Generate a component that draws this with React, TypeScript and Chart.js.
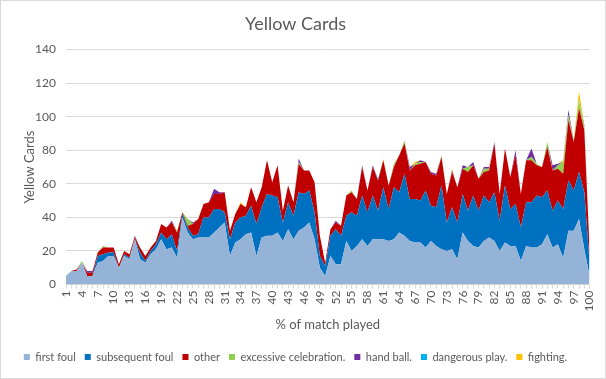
import React, { useEffect, useRef } from "react";
import { Chart, registerables } from "chart.js";

Chart.register(...registerables);

const categories: string[] = Array.from({ length: 100 }, (_, i) => String(i + 1));

const firstFoul = [
  5, 8, 8, 13, 5, 5, 13, 14, 17, 17,
  10, 17, 15, 27, 15, 13, 18, 21, 27, 21,
  22, 16, 40, 31, 27, 28, 28, 28, 31, 34,
  37, 17, 25, 27, 30, 31, 17, 28, 29, 29,
  31, 26, 33, 27, 32, 34, 37, 27, 10, 5,
  17, 12, 12, 26, 20, 23, 27, 23, 27, 27,
  27, 26, 27, 31, 29, 26, 25, 25, 22, 26,
  23, 21, 20, 21, 15, 31, 26, 23, 22, 26,
  28, 26, 20, 25, 23, 23, 14, 23, 22, 22,
  24, 30, 22, 24, 16, 32, 32, 39, 21, 5,
];

const subsequentFoul = [
  0, 0, 0, 0, 0, 0, 4, 4, 2, 2,
  0, 1, 1, 0, 4, 1, 2, 3, 4, 6,
  8, 4, 2, 3, 2, 2, 12, 12, 14, 11,
  6, 10, 12, 13, 11, 16, 19, 18, 25, 24,
  21, 11, 16, 14, 23, 20, 19, 16, 7, 6,
  12, 21, 17, 15, 23, 18, 26, 20, 26, 17,
  31, 19, 31, 24, 37, 25, 26, 25, 34, 21,
  23, 38, 17, 25, 22, 23, 18, 30, 22, 27,
  21, 29, 18, 34, 22, 25, 20, 26, 27, 31,
  28, 26, 22, 26, 29, 30, 24, 28, 34, 8,
];

const other = [
  0, 0, 1, 0, 2, 2, 2, 4, 3, 3,
  2, 2, 2, 1, 3, 3, 2, 2, 5, 7,
  7, 11, 1, 1, 7, 9, 8, 9, 9, 9,
  12, 5, 5, 8, 5, 11, 13, 12, 20, 8,
  19, 7, 10, 8, 17, 14, 12, 18, 12, 2,
  4, 4, 6, 12, 12, 10, 17, 13, 17, 18,
  16, 14, 12, 22, 18, 17, 20, 22, 17, 19,
  19, 17, 17, 21, 21, 15, 23, 18, 19, 14,
  19, 29, 16, 22, 19, 29, 20, 25, 25, 18,
  18, 26, 24, 19, 21, 36, 29, 38, 37, 8,
];

const excessiveCelebration = [
  0, 0, 0, 1, 0, 0, 0, 1, 0, 0,
  0, 0, 0, 0, 0, 0, 0, 0, 0, 0,
  0, 1, 0, 4, 0, 0, 0, 0, 0, 0,
  0, 0, 0, 0, 0, 0, 0, 0, 0, 0,
  0, 0, 0, 0, 1, 0, 0, 0, 0, 0,
  0, 0, 0, 0, 1, 0, 0, 0, 0, 0,
  0, 0, 2, 0, 2, 0, 1, 1, 0, 0,
  0, 1, 0, 0, 0, 0, 3, 0, 0, 2,
  1, 0, 0, 0, 0, 0, 0, 0, 2, 1,
  0, 3, 0, 2, 7, 3, 1, 5, 2, 0,
];

const handBall = [
  0, 0, 0, 0, 1, 1, 0, 0, 0, 0,
  0, 0, 0, 1, 0, 0, 0, 0, 0, 0,
  1, 0, 0, 0, 1, 0, 0, 0, 3, 1,
  0, 0, 0, 0, 0, 0, 0, 0, 0, 0,
  0, 0, 0, 0, 2, 0, 0, 0, 0, 0,
  0, 1, 0, 0, 0, 0, 1, 0, 1, 0,
  0, 0, 0, 0, 0, 2, 0, 1, 0, 1,
  1, 0, 0, 1, 0, 2, 0, 2, 0, 1,
  1, 1, 0, 0, 0, 3, 0, 0, 5, 0,
  0, 0, 3, 1, 0, 3, 0, 0, 1, 0,
];

const dangerousPlay = [
  0, 0, 0, 0, 0, 0, 0, 0, 0, 0,
  0, 0, 0, 0, 0, 0, 0, 0, 0, 0,
  0, 0, 0, 0, 0, 0, 0, 0, 0, 0,
  0, 0, 0, 0, 0, 0, 0, 0, 0, 0,
  0, 0, 0, 0, 0, 0, 0, 0, 0, 0,
  0, 0, 0, 0, 0, 0, 0, 0, 0, 1,
  0, 0, 0, 0, 0, 0, 0, 0, 0, 0,
  0, 0, 0, 0, 0, 0, 0, 0, 0, 0,
  0, 0, 0, 0, 0, 0, 0, 0, 0, 0,
  0, 0, 0, 0, 0, 0, 0, 0, 0, 0,
];

const fighting = [
  0, 0, 0, 0, 0, 0, 0, 0, 0, 0,
  0, 0, 0, 0, 0, 0, 0, 0, 0, 0,
  0, 0, 0, 0, 0, 0, 0, 0, 0, 0,
  0, 0, 0, 1, 0, 0, 0, 0, 0, 0,
  0, 0, 0, 0, 0, 0, 0, 0, 0, 0,
  0, 0, 0, 0, 0, 0, 0, 0, 0, 0,
  1, 0, 0, 0, 0, 0, 1, 0, 0, 0,
  0, 0, 0, 1, 0, 0, 0, 0, 0, 0,
  0, 0, 0, 0, 0, 0, 0, 0, 0, 0,
  0, 0, 0, 0, 1, 0, 0, 5, 0, 0,
];

const seriesNames = [
  "first foul",
  "subsequent foul",
  "other",
  "excessive celebration.",
  "hand ball.",
  "dangerous play.",
  "fighting.",
];
const seriesValues = [firstFoul, subsequentFoul, other, excessiveCelebration, handBall, dangerousPlay, fighting];
const seriesColors = ["#95B3D7", "#0070C0", "#C00000", "#92D050", "#7030A0", "#00B0F0", "#FFC000"];

const textColor = "#595959";
const fontFamily = "Lato, 'Liberation Sans', sans-serif";

export default function App() {
  const canvasRef = useRef<HTMLCanvasElement>(null);

  useEffect(() => {
    if (!canvasRef.current) return;
    const chart = new Chart(canvasRef.current, {
      type: "line",
      data: {
        labels: categories,
        datasets: seriesNames.map((name, i) => ({
          label: name,
          data: seriesValues[i],
          backgroundColor: seriesColors[i],
          borderColor: "rgba(0,0,0,0)",
          borderWidth: 0,
          pointRadius: 0,
          pointHoverRadius: 0,
          tension: 0,
          fill: i === 0 ? "origin" : "-1",
        })),
      },
      options: {
        responsive: false,
        animation: false,
        devicePixelRatio: 1,
        layout: { padding: { left: 0, right: 15, top: 0, bottom: 6.5 } },
        plugins: {
          title: {
            display: true,
            text: "Yellow Cards",
            color: textColor,
            font: { family: fontFamily, size: 18, weight: "normal" },
            padding: { top: 13, bottom: 15 },
          },
          legend: {
            display: true,
            position: "bottom",
            labels: {
              boxWidth: 6,
              boxHeight: 6,
              padding: 9,
              color: textColor,
              font: { family: fontFamily, size: 11 },
            },
          },
          tooltip: { enabled: false },
        },
        scales: {
          x: {
            offset: false,
            grid: {
              display: true,
              drawOnChartArea: false,
              drawTicks: true,
              tickLength: 4,
              color: "#d9d9d9",
            },
            border: { display: true, color: "#d9d9d9" },
            ticks: {
              autoSkip: false,
              maxRotation: 90,
              minRotation: 90,
              padding: 2,
              color: textColor,
              font: { family: fontFamily, size: 12 },
              callback: (_v: any, i: number) => (i % 3 === 0 ? categories[i] : ""),
            },
            title: {
              display: true,
              text: "% of match played",
              color: textColor,
              font: { family: fontFamily, size: 13 },
              padding: { top: 0, bottom: 9.7 },
            },
            afterFit: (s: any) => {
              s.height = 58;
            },
          },
          y: {
            stacked: true,
            min: 0,
            max: 140,
            ticks: {
              stepSize: 20,
              padding: 10,
              color: textColor,
              font: { family: fontFamily, size: 12 },
            },
            grid: { color: "#d9d9d9", drawTicks: false },
            border: { display: false },
            title: {
              display: true,
              text: "Yellow Cards",
              color: textColor,
              font: { family: fontFamily, size: 13 },
              padding: { top: 22, bottom: 0 },
            },
            afterFit: (s: any) => {
              s.width = 66;
            },
          },
        },
      },
    } as any);
    return () => chart.destroy();
  }, []);

  return (
    <div
      style={{
        position: "fixed",
        left: 0,
        top: 0,
        width: 606,
        height: 379,
        background: "#ffffff",
      }}
    >
      <canvas ref={canvasRef} width={606} height={379} style={{ display: "block" }} />
      <div
        style={{
          position: "absolute",
          left: 0,
          top: 0,
          right: 0,
          bottom: 0,
          border: "1px solid #d9d9d9",
          pointerEvents: "none",
        }}
      />
    </div>
  );
}
